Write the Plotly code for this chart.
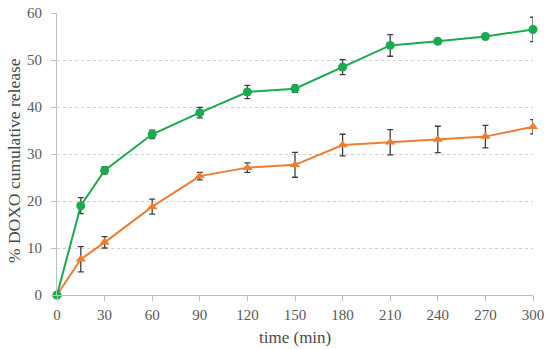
import plotly.graph_objects as go

time_min = [0, 15, 30, 60, 90, 120, 150, 180, 210, 240, 270, 300]
green_vals = [0, 19.0, 26.5, 34.2, 38.8, 43.2, 43.9, 48.5, 53.1, 54.0, 55.0, 56.5]
green_err = [0, 1.7, 0.8, 0.9, 1.1, 1.4, 0.8, 1.6, 2.3, 0.5, 0.4, 2.6]
orange_vals = [0, 7.6, 11.2, 18.8, 25.3, 27.1, 27.7, 31.9, 32.5, 33.1, 33.7, 35.8]
orange_err = [0, 2.7, 1.2, 1.6, 0.8, 1.0, 2.65, 2.3, 2.7, 2.8, 2.4, 1.5]
x_ticks = [0, 30, 60, 90, 120, 150, 180, 210, 240, 270, 300]
y_ticks = [0, 10, 20, 30, 40, 50, 60]

GREEN = "#1aab4f"
ORANGE = "#ed7d31"
ERR = "#404040"
FONT = "Liberation Serif"

fig = go.Figure()
fig.add_trace(go.Scatter(
    x=time_min, y=orange_vals, mode="lines+markers",
    line=dict(color=ORANGE, width=2),
    marker=dict(symbol="triangle-up", size=9, color=ORANGE),
    error_y=dict(type="data", array=orange_err, visible=True, color=ERR, thickness=1.3, width=3),
    showlegend=False,
))
fig.add_trace(go.Scatter(
    x=time_min, y=green_vals, mode="lines+markers",
    line=dict(color=GREEN, width=2),
    marker=dict(symbol="circle", size=9, color=GREEN),
    error_y=dict(type="data", array=green_err, visible=True, color=ERR, thickness=1.3, width=3),
    showlegend=False,
))

fig.update_layout(
    width=550, height=349,
    margin=dict(l=57, r=17, t=13, b=54),
    plot_bgcolor="white", paper_bgcolor="white",
    font=dict(family=FONT, size=15, color="#595959"),
)
fig.update_xaxes(
    range=[0, 300], tickvals=x_ticks, ticktext=[str(v) for v in x_ticks],
    showline=True, linecolor="#bfbfbf", linewidth=1,
    ticks="outside", ticklen=5, tickcolor="#bfbfbf",
    showgrid=False, zeroline=False, automargin=False,
    tickfont=dict(family=FONT, size=15, color="#595959"),
    ticklabelstandoff=1,
)
fig.update_yaxes(
    range=[0, 60], tickvals=y_ticks, ticktext=[str(v) for v in y_ticks],
    showline=True, linecolor="#bfbfbf", linewidth=1,
    ticks="outside", ticklen=5, tickcolor="#bfbfbf",
    showgrid=True, gridcolor="#d0d0d0", griddash="dot", gridwidth=1,
    zeroline=False, automargin=False,
    tickfont=dict(family=FONT, size=15, color="#595959"),
    ticklabelstandoff=6,
)
fig.add_annotation(
    text="time (min)", xref="paper", yref="paper", x=0.5, y=0,
    yshift=-42, showarrow=False, yanchor="middle",
    font=dict(family=FONT, size=17, color="#4a4a4a"),
)
fig.add_annotation(
    text="% DOXO cumulative release", xref="paper", yref="paper", x=0, y=0.5,
    xshift=-43, yshift=-7, showarrow=False, textangle=-90, xanchor="center",
    font=dict(family=FONT, size=17.5, color="#4a4a4a"),
)
fig.update_traces(cliponaxis=False)

fig.write_html(
    "out.html",
    config={"displayModeBar": False},
    post_script="document.body.style.margin='0';document.body.style.padding='0';",
)
